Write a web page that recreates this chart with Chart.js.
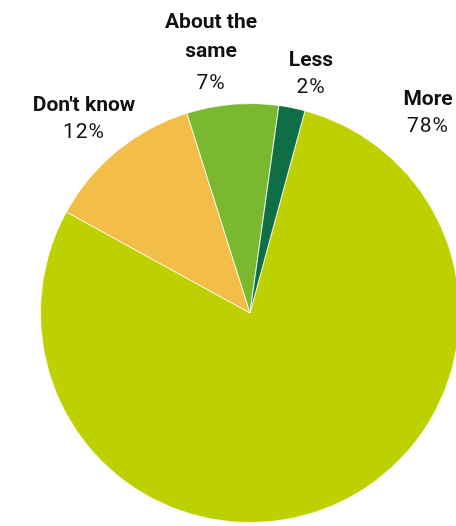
<!DOCTYPE html>
<html>
<head>
<meta charset="utf-8">
<script src="https://cdn.jsdelivr.net/npm/chart.js@4"></script>
<style>
  html, body { margin: 0; padding: 0; background: #fff; overflow: hidden; width: 456px; height: 526px; }
  canvas { display: block; }
</style>
</head>
<body>
<canvas id="graficoPizza" width="460" height="526"></canvas>
<script>
// categorias e valores (sentido horário, começando em "More")
const categorias = ['More', "Don't know", 'About the same', 'Less'];
const valores = [78, 12, 7, 2];
const cores = ['#bdd000', '#f3be48', '#7ab82f', '#0f6e45'];

// rótulos: linhas em negrito + porcentagem
const titulos = [['More'], ["Don't know"], ['About the', 'same'], ['Less']];
// [x central, linha de base do título, linha de base da porcentagem]
const posRotulos = [[428, 105, 132], [84, 111, 138], [211, 28, 89], [311, 66, 93]];

const rotulosPlugin = {
    id: 'rotulos',
    afterDraw(chart) {
        const ctx = chart.ctx;
        ctx.save();
        ctx.textAlign = 'center';
        ctx.textBaseline = 'alphabetic';
        ctx.fillStyle = '#111';
        categorias.forEach((cat, i) => {
            let [x, y, yPct] = posRotulos[i];
            ctx.font = 'bold 21px Roboto';
            titulos[i].forEach(linha => {
                ctx.fillText(linha, x, y);
                y += 29;
            });
            ctx.font = '21px Roboto';
            ctx.letterSpacing = '1px';
            ctx.fillText(valores[i] + '%', x, yPct);
            ctx.letterSpacing = '0px';
        });
        ctx.restore();
    }
};

const graficoPizza = new Chart(document.getElementById('graficoPizza'), {
    type: 'pie',
    data: {
        labels: categorias,
        datasets: [{
            data: valores,
            backgroundColor: cores,
            borderColor: '#ffffff',
            borderWidth: 0.8
        }]
    },
    options: {
        responsive: false,
        animation: false,
        rotation: 15.2,
        layout: { padding: { left: 40, right: 0, top: 103, bottom: 3 } },
        plugins: {
            legend: { display: false },
            tooltip: { enabled: false }
        }
    },
    plugins: [rotulosPlugin]
});
</script>
</body>
</html>
